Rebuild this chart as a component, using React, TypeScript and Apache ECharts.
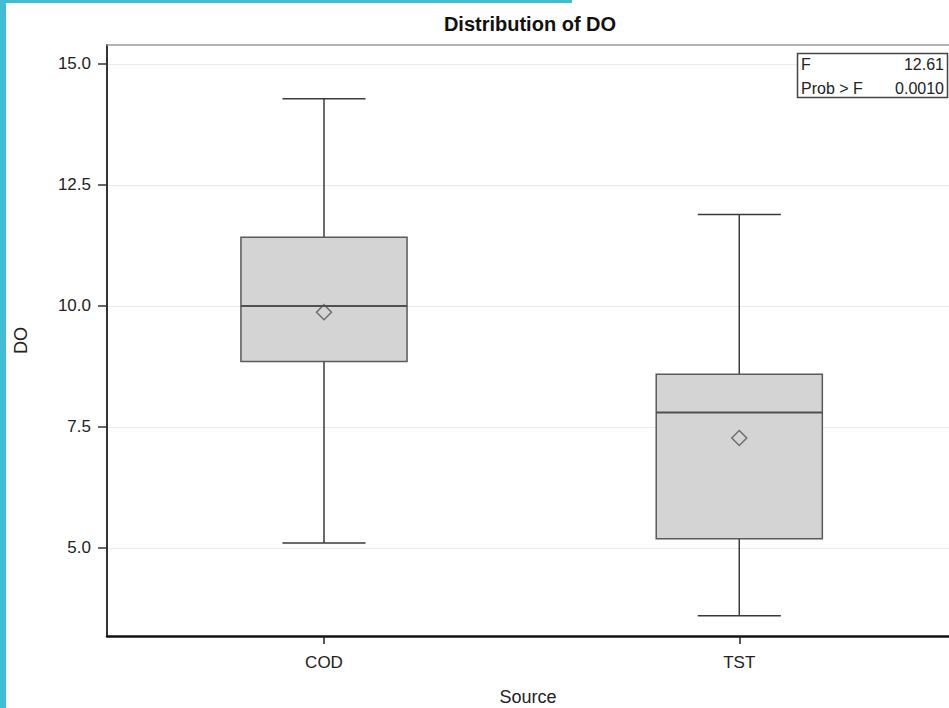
import React, { useEffect, useRef } from "react";
import * as echarts from "echarts";

const categories = ["COD", "TST"];
const categoryPositions = [1, 2];
const minValues = [5.1, 3.6];
const q1Values = [8.85, 5.19];
const medianValues = [10.0, 7.8];
const q3Values = [11.42, 8.59];
const maxValues = [14.28, 11.89];
const meanValues = [9.87, 7.27];
const yTicks = [5, 7.5, 10, 12.5, 15];
const titleText = "Distribution of DO";
const fLabel = "F";
const fValue = "12.61";
const probLabel = "Prob > F";
const probValue = "0.0010";

const FONT = "'Liberation Sans', Arial, sans-serif";
const BOX_WIDTH = 0.4;
const CAP_WIDTH = 0.2;
const X_MIN = 0.4775;
const X_MAX = 2.505;
const Y_MIN = 3.18;
const Y_MAX = 15.39;

export default function App() {
  const ref = useRef<HTMLDivElement>(null);
  useEffect(() => {
    if (!ref.current) return;
    const chart = echarts.init(ref.current, null, { renderer: "svg" });
    const boxData = categoryPositions.map((p, i) => [
      p,
      minValues[i],
      q1Values[i],
      medianValues[i],
      q3Values[i],
      maxValues[i],
    ]);
    const meanData = categoryPositions.map((p, i) => [p, meanValues[i]]);
    const whisker = { stroke: "#3a3a3a", lineWidth: 1.5 };
    chart.setOption({
      animation: false,
      backgroundColor: "#ffffff",
      grid: { left: 107, right: 0, top: 45, bottom: 72, outerBoundsMode: "none", containLabel: false },
      xAxis: [
        {
          type: "value",
          min: X_MIN,
          max: X_MAX,
          name: "Source",
          nameLocation: "middle",
          nameGap: 52,
          nameTextStyle: { fontFamily: FONT, fontSize: 18, color: "#222" },
          axisLine: { show: true, onZero: false, lineStyle: { color: "#111", width: 2.5 } },
          axisTick: { show: true, customValues: categoryPositions, length: 8, lineStyle: { color: "#222", width: 1.5 } },
          axisLabel: {
            customValues: categoryPositions,
            formatter: (v: number) => categories[Math.round(v) - 1] ?? "",
            fontFamily: FONT,
            fontSize: 17,
            color: "#222",
            margin: 18,
          },
          splitLine: { show: false },
        },
        {
          type: "value",
          position: "top",
          min: X_MIN,
          max: X_MAX,
          axisLine: { show: true, onZero: false, lineStyle: { color: "#999", width: 1.5 } },
          axisTick: { show: false },
          axisLabel: { show: false },
          splitLine: { show: false },
        },
      ],
      yAxis: {
        type: "value",
        min: Y_MIN,
        max: Y_MAX,
        name: "DO",
        nameLocation: "middle",
        nameGap: 77,
        nameRotate: 90,
        nameTextStyle: { fontFamily: FONT, fontSize: 18, color: "#222" },
        axisLine: { show: true, onZero: false, lineStyle: { color: "#333", width: 2 } },
        axisTick: { show: true, customValues: yTicks, length: 9, lineStyle: { color: "#333", width: 1.5 } },
        axisLabel: {
          customValues: yTicks,
          formatter: (v: number) => v.toFixed(1),
          fontFamily: FONT,
          fontSize: 17,
          color: "#222",
          margin: 16,
        },
        splitLine: { show: false },
      },
      graphic: [
        { type: "rect", shape: { x: 0, y: 0, width: 6, height: 708 }, style: { fill: "#40bcd4" }, z: 100 },
        { type: "rect", shape: { x: 0, y: 0, width: 572, height: 3 }, style: { fill: "#40bcd4" }, z: 100 },
        {
          type: "text",
          x: 530,
          y: 24,
          style: { text: titleText, align: "center", verticalAlign: "middle", font: `bold 20px ${FONT}`, fill: "#111" },
          z: 100,
        },
        {
          type: "rect",
          shape: { x: 797.5, y: 53.5, width: 150, height: 44 },
          style: { fill: "#ffffff", stroke: "#444", lineWidth: 1.5 },
          z: 100,
        },
        { type: "text", x: 801, y: 64, style: { text: fLabel, align: "left", verticalAlign: "middle", font: `16px ${FONT}`, fill: "#222" }, z: 101 },
        { type: "text", x: 944, y: 64, style: { text: fValue, align: "right", verticalAlign: "middle", font: `16px ${FONT}`, fill: "#222" }, z: 101 },
        { type: "text", x: 801, y: 88, style: { text: probLabel, align: "left", verticalAlign: "middle", font: `16px ${FONT}`, fill: "#222" }, z: 101 },
        { type: "text", x: 944, y: 88, style: { text: probValue, align: "right", verticalAlign: "middle", font: `16px ${FONT}`, fill: "#222" }, z: 101 },
      ],
      series: [
        {
          type: "scatter",
          data: [],
          z: 0,
          silent: true,
          markLine: {
            silent: true,
            z: 0,
            symbol: "none",
            label: { show: false },
            lineStyle: { color: "#ebebeb", width: 1, type: "solid" },
            data: yTicks.map((v) => ({ yAxis: v })),
          },
        },
        {
          type: "custom",
          z: 2,
          data: boxData,
          encode: { x: 0, y: [1, 2, 3, 4, 5] },
          renderItem: (params: any, api: any) => {
            const x = api.value(0);
            const lo = api.coord([x, api.value(1)]);
            const q1 = api.coord([x, api.value(2)]);
            const med = api.coord([x, api.value(3)]);
            const q3 = api.coord([x, api.value(4)]);
            const hi = api.coord([x, api.value(5)]);
            const boxW = api.size([BOX_WIDTH, 0])[0];
            const capW = api.size([CAP_WIDTH, 0])[0];
            const cx = lo[0];
            return {
              type: "group",
              children: [
                { type: "line", shape: { x1: cx, y1: hi[1], x2: cx, y2: q3[1] }, style: whisker },
                { type: "line", shape: { x1: cx, y1: q1[1], x2: cx, y2: lo[1] }, style: whisker },
                { type: "line", shape: { x1: cx - capW / 2, y1: hi[1], x2: cx + capW / 2, y2: hi[1] }, style: whisker },
                { type: "line", shape: { x1: cx - capW / 2, y1: lo[1], x2: cx + capW / 2, y2: lo[1] }, style: whisker },
                {
                  type: "rect",
                  shape: { x: cx - boxW / 2, y: q3[1], width: boxW, height: q1[1] - q3[1] },
                  style: { fill: "#d4d4d4", stroke: "#5a5a5a", lineWidth: 1.5 },
                },
                {
                  type: "line",
                  shape: { x1: cx - boxW / 2, y1: med[1], x2: cx + boxW / 2, y2: med[1] },
                  style: { stroke: "#505050", lineWidth: 2 },
                },
              ],
            };
          },
        },
        {
          type: "scatter",
          z: 3,
          data: meanData,
          symbol: "diamond",
          symbolSize: 15,
          itemStyle: { color: "rgba(0,0,0,0)", borderColor: "#555", borderWidth: 1.5 },
        },
      ],
    });
    return () => chart.dispose();
  }, []);
  return (
    <div
      ref={ref}
      style={{ position: "fixed", left: 0, top: 0, width: 949, height: 708 }}
    />
  );
}
